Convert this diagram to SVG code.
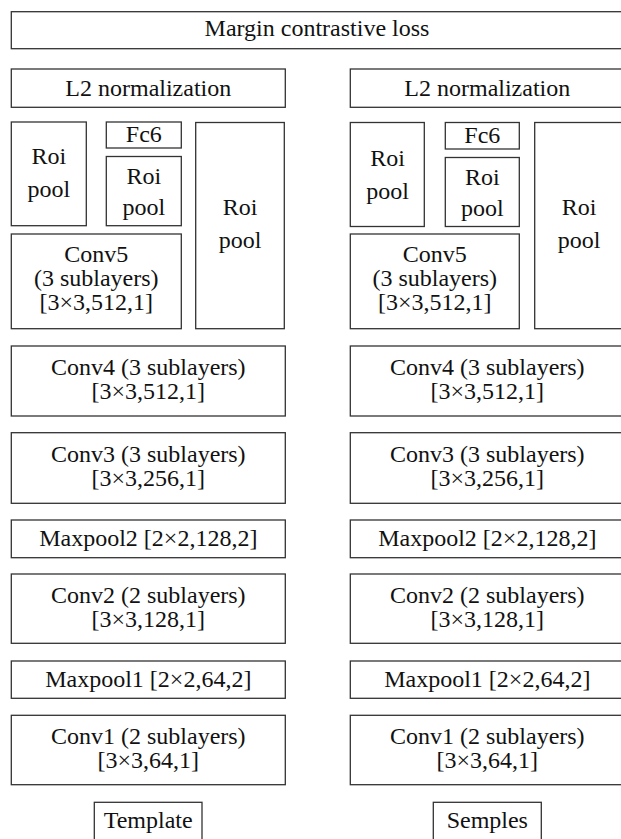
<svg xmlns="http://www.w3.org/2000/svg" width="621" height="839" viewBox="0 0 621 839">
<style>
rect{fill:#fff;stroke:#333;stroke-width:1.3}
text{font-family:"Liberation Serif","Times New Roman",serif;font-size:24px;text-anchor:middle;fill:#111}
</style>
<rect x="0" y="0" width="621" height="839" style="stroke:none"/>
<g id="loss"><rect x="11.3" y="11.7" width="614" height="37"/><text x="317" y="35.5">Margin contrastive loss</text></g>
<g id="l2-left"><rect x="11.3" y="69" width="274" height="38.3"/><text x="148.3" y="95.5">L2 normalization</text></g>
<g id="roi1-left"><rect x="11.3" y="122" width="75" height="103.7"/><text x="48.8" y="164">Roi</text><text x="48.8" y="197">pool</text></g>
<g id="fc6-left"><rect x="106.3" y="122" width="75" height="26"/><text x="143.8" y="142">Fc6</text></g>
<g id="roi2-left"><rect x="106.3" y="156.5" width="75" height="69.2"/><text x="143.8" y="183.5">Roi</text><text x="143.8" y="214.5">pool</text></g>
<g id="conv5-left"><rect x="11.3" y="234" width="170" height="94.7"/><text x="96.3" y="262">Conv5</text><text x="96.3" y="286">(3 sublayers)</text><text x="96.3" y="310">[3×3,512,1]</text></g>
<g id="roi3-left"><rect x="195.7" y="122.5" width="88.6" height="206.2"/><text x="240" y="215">Roi</text><text x="240" y="248">pool</text></g>
<g id="conv4-left"><rect x="11.3" y="346" width="274" height="70"/><text x="148.3" y="375">Conv4 (3 sublayers)</text><text x="148.3" y="399">[3×3,512,1]</text></g>
<g id="conv3-left"><rect x="11.3" y="432.7" width="274" height="70.6"/><text x="148.3" y="462">Conv3 (3 sublayers)</text><text x="148.3" y="486">[3×3,256,1]</text></g>
<g id="maxpool2-left"><rect x="11.3" y="520" width="274" height="37.7"/><text x="148.3" y="545.5">Maxpool2 [2×2,128,2]</text></g>
<g id="conv2-left"><rect x="11.3" y="574" width="274" height="69.3"/><text x="148.3" y="603">Conv2 (2 sublayers)</text><text x="148.3" y="627">[3×3,128,1]</text></g>
<g id="maxpool1-left"><rect x="11.3" y="661" width="274" height="37.3"/><text x="148.3" y="686.5">Maxpool1 [2×2,64,2]</text></g>
<g id="conv1-left"><rect x="11.3" y="715.3" width="274" height="69.4"/><text x="148.3" y="744">Conv1 (2 sublayers)</text><text x="148.3" y="768">[3×3,64,1]</text></g>
<g id="template"><rect x="94.3" y="802.3" width="107.7" height="42"/><text x="148.2" y="828">Template</text></g>
<g id="l2-right"><rect x="350.3" y="69" width="274" height="38.3"/><text x="487.3" y="95.5">L2 normalization</text></g>
<g id="roi1-right"><rect x="350.3" y="122.5" width="74" height="104"/><text x="387.5" y="166">Roi</text><text x="387.5" y="199">pool</text></g>
<g id="fc6-right"><rect x="445.3" y="122.5" width="74" height="26.5"/><text x="482.3" y="143">Fc6</text></g>
<g id="roi2-right"><rect x="445.3" y="157.5" width="74" height="69"/><text x="482.3" y="185">Roi</text><text x="482.3" y="216">pool</text></g>
<g id="conv5-right"><rect x="350.3" y="234" width="169" height="94.7"/><text x="434.8" y="262">Conv5</text><text x="434.8" y="286">(3 sublayers)</text><text x="434.8" y="310">[3×3,512,1]</text></g>
<g id="roi3-right"><rect x="534.7" y="122.5" width="88.6" height="206.2"/><text x="579" y="215">Roi</text><text x="579" y="248">pool</text></g>
<g id="conv4-right"><rect x="350.3" y="346" width="274" height="70"/><text x="487.3" y="375">Conv4 (3 sublayers)</text><text x="487.3" y="399">[3×3,512,1]</text></g>
<g id="conv3-right"><rect x="350.3" y="432.7" width="274" height="70.6"/><text x="487.3" y="462">Conv3 (3 sublayers)</text><text x="487.3" y="486">[3×3,256,1]</text></g>
<g id="maxpool2-right"><rect x="350.3" y="520" width="274" height="37.7"/><text x="487.3" y="545.5">Maxpool2 [2×2,128,2]</text></g>
<g id="conv2-right"><rect x="350.3" y="574" width="274" height="69.3"/><text x="487.3" y="603">Conv2 (2 sublayers)</text><text x="487.3" y="627">[3×3,128,1]</text></g>
<g id="maxpool1-right"><rect x="350.3" y="661" width="274" height="37.3"/><text x="487.3" y="686.5">Maxpool1 [2×2,64,2]</text></g>
<g id="conv1-right"><rect x="350.3" y="715.3" width="274" height="69.4"/><text x="487.3" y="744">Conv1 (2 sublayers)</text><text x="487.3" y="768">[3×3,64,1]</text></g>
<g id="semples"><rect x="433.3" y="802.3" width="108" height="42"/><text x="487.3" y="828">Semples</text></g>
<g id="connectors"></g>
</svg>
